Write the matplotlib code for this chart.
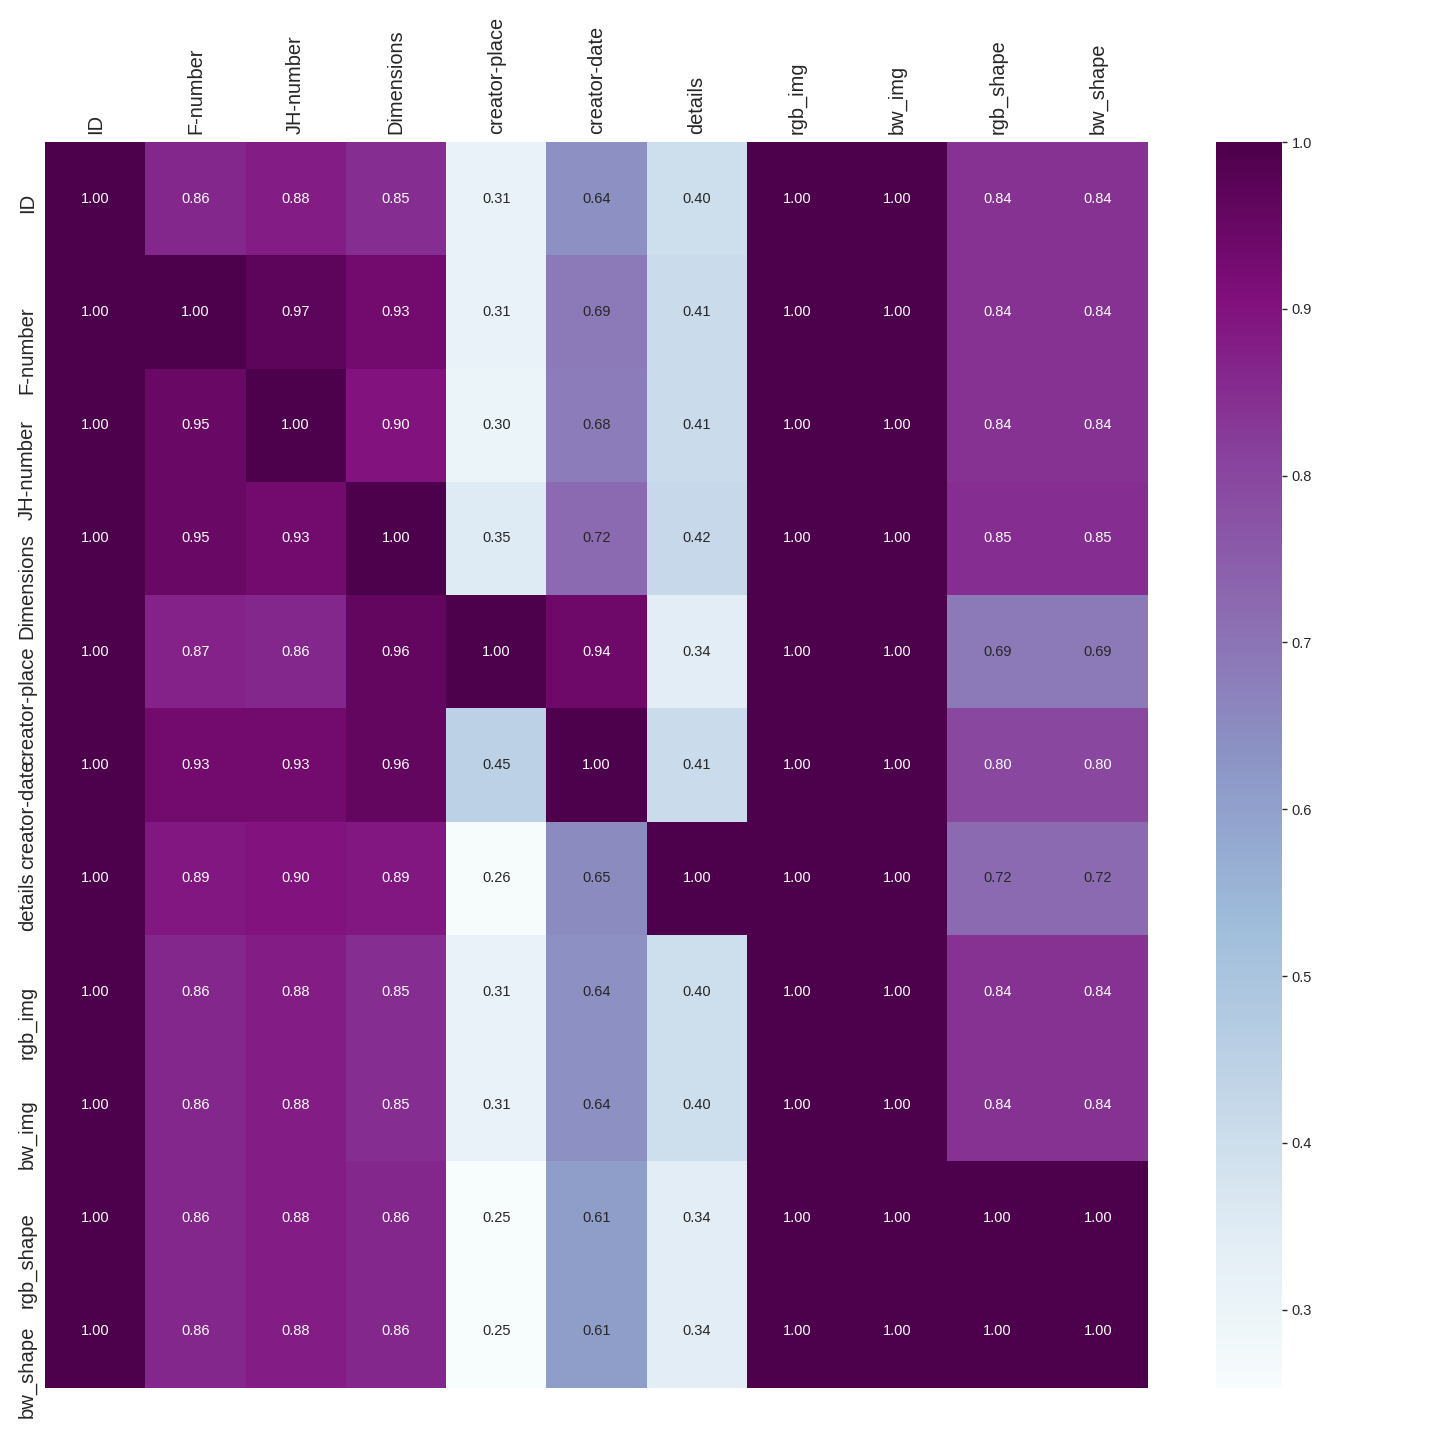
import numpy as np
import matplotlib
matplotlib.use("Agg")
import matplotlib.pyplot as plt
from matplotlib import colors as mcolors

plt.rcParams["font.family"] = ["Liberation Sans", "DejaVu Sans"]

labels = ["ID", "F-number", "JH-number", "Dimensions", "creator-place", "creator-date",
          "details", "rgb_img", "bw_img", "rgb_shape", "bw_shape"]

row_id = [1.00, 0.86, 0.88, 0.85, 0.31, 0.64, 0.40, 1.00, 1.00, 0.84, 0.84]
row_fnum = [1.00, 1.00, 0.97, 0.93, 0.31, 0.69, 0.41, 1.00, 1.00, 0.84, 0.84]
row_jhnum = [1.00, 0.95, 1.00, 0.90, 0.30, 0.68, 0.41, 1.00, 1.00, 0.84, 0.84]
row_dims = [1.00, 0.95, 0.93, 1.00, 0.35, 0.72, 0.42, 1.00, 1.00, 0.85, 0.85]
row_cplace = [1.00, 0.87, 0.86, 0.96, 1.00, 0.94, 0.34, 1.00, 1.00, 0.69, 0.69]
row_cdate = [1.00, 0.93, 0.93, 0.96, 0.45, 1.00, 0.41, 1.00, 1.00, 0.80, 0.80]
row_details = [1.00, 0.89, 0.90, 0.89, 0.26, 0.65, 1.00, 1.00, 1.00, 0.72, 0.72]
row_rgb_img = [1.00, 0.86, 0.88, 0.85, 0.31, 0.64, 0.40, 1.00, 1.00, 0.84, 0.84]
row_bw_img = [1.00, 0.86, 0.88, 0.85, 0.31, 0.64, 0.40, 1.00, 1.00, 0.84, 0.84]
row_rgb_shape = [1.00, 0.86, 0.88, 0.86, 0.25, 0.61, 0.34, 1.00, 1.00, 1.00, 1.00]
row_bw_shape = [1.00, 0.86, 0.88, 0.86, 0.25, 0.61, 0.34, 1.00, 1.00, 1.00, 1.00]

data = np.array([row_id, row_fnum, row_jhnum, row_dims, row_cplace, row_cdate,
                 row_details, row_rgb_img, row_bw_img, row_rgb_shape, row_bw_shape])
cbar_ticks = [0.3, 0.4, 0.5, 0.6, 0.7, 0.8, 0.9, 1.0]

vmin, vmax = 0.253, 1.0
cmap = plt.get_cmap("BuPu")
norm = mcolors.Normalize(vmin=vmin, vmax=vmax)

fig = plt.figure(figsize=(14.4, 14.4), dpi=100)
ax = fig.add_axes([45 / 1440, 1 - 1388 / 1440, (1148 - 45) / 1440, (1388 - 142) / 1440])
cax = fig.add_axes([1216 / 1440, 1 - 1388 / 1440, (1282 - 1216) / 1440, (1388 - 142) / 1440])

n = len(labels)
mesh = ax.pcolormesh(np.arange(n + 1), np.arange(n + 1), data, cmap=cmap, norm=norm)
ax.set_xlim(0, n)
ax.set_ylim(n, 0)

# annotations, text colour by cell luminance (like seaborn)
for i in range(n):
    for j in range(n):
        rgba = cmap(norm(data[i, j]))
        lum = 0.2126 * rgba[0] + 0.7152 * rgba[1] + 0.0722 * rgba[2]
        c = ".15" if lum > 0.408 else "w"
        ax.text(j + 0.5, i + 0.5, f"{data[i, j]:.2f}", ha="center", va="center",
                color=c, fontsize=10.5)

ax.xaxis.tick_top()
ax.set_xticks(np.arange(n) + 0.5)
ax.set_xticklabels(labels, rotation=90, fontsize=14.4, color=".15")
# labels start just above the row centre and run downward, as in the reference
ax.set_yticks(np.arange(n) + 0.45)
ax.set_yticklabels(labels, rotation=90, va="top", fontsize=14.6, color=".15")
ax.tick_params(length=0, pad=6)
for s in ax.spines.values():
    s.set_visible(False)

cb = fig.colorbar(mesh, cax=cax, ticks=cbar_ticks)
cb.outline.set_visible(False)
cb.ax.tick_params(labelsize=10.5, length=3.5, width=1, color=".15", labelcolor=".15")
cb.ax.set_yticklabels([f"{t:.1f}" for t in cbar_ticks])

fig.savefig("out.png", dpi=100, facecolor="white")
